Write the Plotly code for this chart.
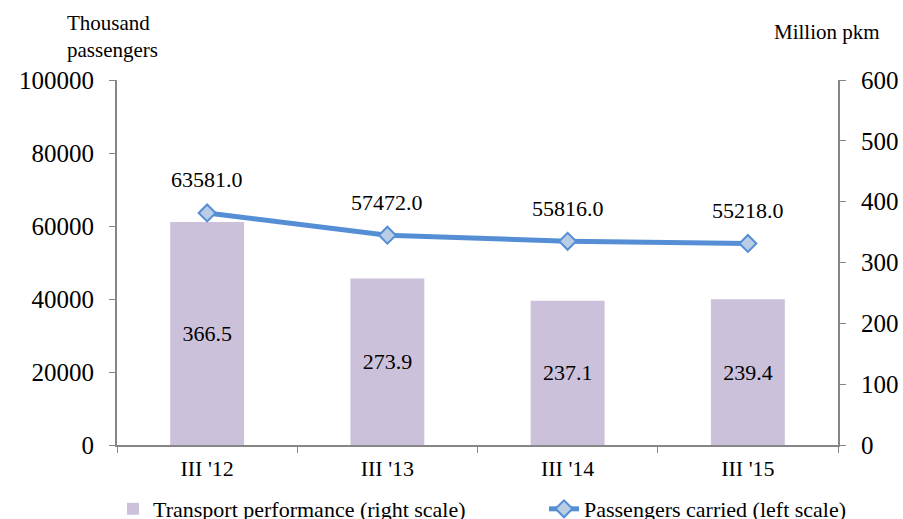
import plotly.graph_objects as go

categories = ["III '12", "III '13", "III '14", "III '15"]
transport_performance = [366.5, 273.9, 237.1, 239.4]
passengers_carried = [63581.0, 57472.0, 55816.0, 55218.0]
left_ticks = [0, 20000, 40000, 60000, 80000, 100000]
right_ticks = [0, 100, 200, 300, 400, 500, 600]

FONT = "Liberation Serif, Times New Roman, Tinos, serif"
AXIS_COLOR = "#868686"
W, H = 903, 519

fig = go.Figure()
fig.add_trace(go.Bar(
    x=categories, y=transport_performance, name="Transport performance (right scale)",
    marker=dict(color="#CCC1DA", line=dict(width=0)), width=0.41,
    text=[f"{v:.1f}" for v in transport_performance], textposition="inside",
    insidetextanchor="middle", textfont=dict(family=FONT, size=22, color="black"),
    yaxis="y", legend="legend",
))
fig.add_trace(go.Scatter(
    x=categories, y=passengers_carried, name="Passengers carried (left scale)",
    mode="lines+markers",
    line=dict(color="#558ED5", width=5),
    marker=dict(symbol="diamond", size=13, color="#B9CDE5", line=dict(color="#558ED5", width=2)),
    yaxis="y2", legend="legend2",
))
for c, v in zip(categories, passengers_carried):
    fig.add_annotation(x=c, y=v, yref="y2", xref="x", text=f"{v:.1f}", showarrow=False,
                       yshift=33, font=dict(family=FONT, size=22, color="black"))

fig.add_annotation(x=0, y=1, xref="paper", yref="paper", text="Thousand<br>passengers",
                   showarrow=False, align="left", xanchor="left", yanchor="middle",
                   xshift=-52, yshift=44, font=dict(family=FONT, size=21, color="black"))
fig.add_annotation(x=1, y=1, xref="paper", yref="paper", text="Million pkm",
                   showarrow=False, align="left", xanchor="right", yanchor="middle",
                   xshift=44, yshift=48, font=dict(family=FONT, size=21, color="black"))

legend_common = dict(orientation="h", xref="container", yref="container",
                     xanchor="left", yanchor="top",
                     font=dict(family=FONT, size=22, color="black"),
                     bgcolor="rgba(0,0,0,0)")
fig.update_layout(
    width=W, height=H,
    margin=dict(l=117, r=65, t=80, b=74, autoexpand=False),
    plot_bgcolor="white", paper_bgcolor="white",
    font=dict(family=FONT, color="black"),
    showlegend=True,
    legend=dict(x=113 / W, y=(H - 488) / H, **legend_common),
    legend2=dict(x=544 / W, y=(H - 488) / H, **legend_common),
    xaxis=dict(showline=True, linecolor=AXIS_COLOR, linewidth=2, ticks="outside",
               tickson="boundaries", ticklen=6, tickcolor=AXIS_COLOR,
               ticklabelstandoff=3,
               tickfont=dict(family=FONT, size=22, color="black"), showgrid=False),
    yaxis=dict(side="right", range=[0, 600], tickvals=right_ticks, showgrid=False,
               showline=True, linecolor=AXIS_COLOR, linewidth=2, ticks="outside",
               ticklen=6, tickcolor=AXIS_COLOR, zeroline=False, ticklabelstandoff=10,
               tickfont=dict(family=FONT, size=25, color="black")),
    yaxis2=dict(side="left", overlaying="y", range=[0, 100000], tickvals=left_ticks,
                tickformat="d",
                showgrid=False, showline=True, linecolor=AXIS_COLOR, linewidth=2,
                ticks="outside", ticklen=6, tickcolor=AXIS_COLOR, zeroline=False,
                ticklabelstandoff=10,
                tickfont=dict(family=FONT, size=25, color="black")),
)
fig.write_html("out.html", config={"displayModeBar": False},
               post_script="document.body.style.margin='0';")
